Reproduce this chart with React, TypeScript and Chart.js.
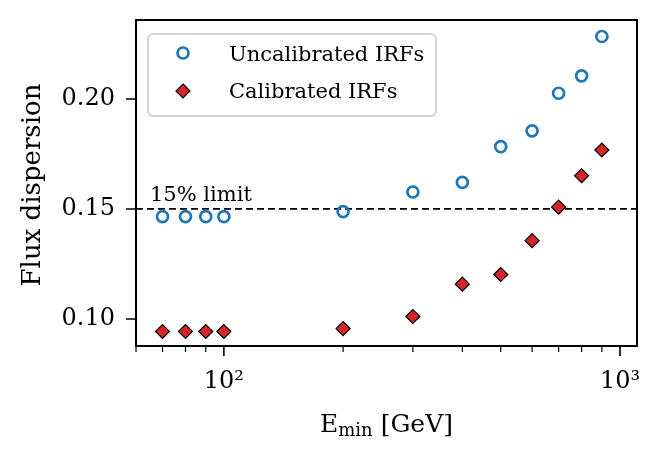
import { useEffect, useRef } from "react"
import { Chart, registerables } from "chart.js"

Chart.register(...registerables)

const energies = [70, 80, 90, 100, 200, 300, 400, 500, 600, 700, 800, 900]
const uncalibrated = [0.1465, 0.1465, 0.1465, 0.1465, 0.1488, 0.1577, 0.1621, 0.1783, 0.1855, 0.2026, 0.2105, 0.2284]
const calibrated = [0.0943, 0.0943, 0.0943, 0.0943, 0.0956, 0.1011, 0.1158, 0.1202, 0.1356, 0.1508, 0.1651, 0.1768]
const limitValue = 0.15
const yTicks = [0.1, 0.15, 0.2]
const xMajorTicks = [100, 1000]
const xMinorTicks = [60, 70, 80, 90, 200, 300, 400, 500, 600, 700, 800, 900]
const xLabels: Record<number, string> = { 100: "10²", 1000: "10³" }
const seriesNames = ["Uncalibrated IRFs", "Calibrated IRFs"]

const FONT = "'DejaVu Serif', serif"
const BLUE = "#1f77b4"
const RED = "#d62728"

// spines, tick marks, titles and the boxed legend, matplotlib style
const decorations = {
  id: "decorations",
  afterDraw(chart: Chart) {
    const { ctx, chartArea: a, scales } = chart
    const x = scales.x
    const y = scales.y
    ctx.save()
    ctx.strokeStyle = "#000"
    ctx.lineWidth = 2
    ctx.strokeRect(a.left, a.top, a.right - a.left, a.bottom - a.top)

    ctx.lineWidth = 1.6
    ctx.beginPath()
    yTicks.forEach((v) => {
      const py = y.getPixelForValue(v)
      ctx.moveTo(a.left, py)
      ctx.lineTo(a.left - 10, py)
    })
    xMajorTicks.forEach((v) => {
      const px = x.getPixelForValue(v)
      ctx.moveTo(px, a.bottom)
      ctx.lineTo(px, a.bottom + 10)
    })
    ctx.stroke()
    ctx.lineWidth = 1.2
    ctx.beginPath()
    xMinorTicks.forEach((v) => {
      const px = x.getPixelForValue(v)
      ctx.moveTo(px, a.bottom)
      ctx.lineTo(px, a.bottom + 6)
    })
    ctx.stroke()

    // limit label
    ctx.fillStyle = "#000"
    ctx.font = `21px ${FONT}`
    ctx.textAlign = "left"
    ctx.textBaseline = "alphabetic"
    ctx.fillText("15% limit", a.left + 14, y.getPixelForValue(limitValue) - 8)

    // x title with subscript
    const big = `25px ${FONT}`
    const small = `18px ${FONT}`
    ctx.font = big
    const wE = ctx.measureText("E").width
    const wRest = ctx.measureText(" [GeV]").width
    ctx.font = small
    const wSub = ctx.measureText("min").width
    const total = wE + wSub + wRest
    let tx = (a.left + a.right) / 2 - total / 2
    const ty = 432
    ctx.font = big
    ctx.fillText("E", tx, ty)
    tx += wE
    ctx.font = small
    ctx.fillText("min", tx, ty + 4)
    tx += wSub
    ctx.font = big
    ctx.fillText(" [GeV]", tx, ty)

    // y title
    ctx.save()
    ctx.translate(40, (a.top + a.bottom) / 2 + 2)
    ctx.rotate(-Math.PI / 2)
    ctx.textAlign = "center"
    ctx.font = `26px ${FONT}`
    ctx.fillText("Flux dispersion", 0, 0)
    ctx.restore()

    // legend
    const lx = 148
    const ly = 34
    const lw = 288
    const lh = 82
    ctx.beginPath()
    ctx.roundRect(lx, ly, lw, lh, 5)
    ctx.fillStyle = "rgba(255,255,255,0.8)"
    ctx.fill()
    ctx.strokeStyle = "#d4d4d4"
    ctx.lineWidth = 2
    ctx.stroke()

    ctx.beginPath()
    ctx.arc(183, 53, 5.5, 0, Math.PI * 2)
    ctx.strokeStyle = BLUE
    ctx.lineWidth = 2.7
    ctx.stroke()

    const d = 7
    ctx.beginPath()
    ctx.moveTo(183, 91 - d)
    ctx.lineTo(183 + d, 91)
    ctx.lineTo(183, 91 + d)
    ctx.lineTo(183 - d, 91)
    ctx.closePath()
    ctx.fillStyle = RED
    ctx.fill()
    ctx.strokeStyle = "#000"
    ctx.lineWidth = 1.2
    ctx.stroke()

    ctx.fillStyle = "#000"
    ctx.font = `21px ${FONT}`
    ctx.fillText(seriesNames[0], 229, 61)
    ctx.fillText(seriesNames[1], 229, 98)
    ctx.restore()
  },
}

export default function App() {
  const chartRef = useRef<HTMLCanvasElement>(null)
  const chartInstance = useRef<Chart | null>(null)

  useEffect(() => {
    document.body.style.margin = "0"
    if (!chartRef.current) return
    const ctx = chartRef.current.getContext("2d")
    if (!ctx) return

    chartInstance.current = new Chart(ctx, {
      type: "scatter",
      data: {
        datasets: [
          {
            label: seriesNames[0],
            data: energies.map((e, i) => ({ x: e, y: uncalibrated[i] })),
            pointStyle: "circle",
            pointRadius: 5.5,
            pointBorderWidth: 2.7,
            pointBorderColor: BLUE,
            pointBackgroundColor: "rgba(0,0,0,0)",
            order: 2,
          },
          {
            label: seriesNames[1],
            data: energies.map((e, i) => ({ x: e, y: calibrated[i] })),
            pointStyle: "rectRot",
            pointRadius: 7,
            pointBorderWidth: 1.2,
            pointBorderColor: "#000",
            pointBackgroundColor: RED,
            order: 1,
          },
          {
            type: "line",
            label: "limit",
            data: [
              { x: 60, y: limitValue },
              { x: 1104, y: limitValue },
            ],
            borderColor: "#000",
            borderWidth: 1.8,
            borderDash: [7, 4],
            pointRadius: 0,
            order: 3,
          },
        ],
      },
      options: {
        responsive: true,
        maintainAspectRatio: false,
        animation: false,
        layout: { padding: { top: 20, right: 26, left: 0, bottom: 0 } },
        plugins: {
          legend: { display: false },
          tooltip: { enabled: false },
        },
        scales: {
          x: {
            type: "logarithmic",
            min: 60,
            max: 1104,
            grid: { display: false, drawTicks: false },
            border: { display: false },
            afterBuildTicks: (scale) => {
              scale.ticks = [...xMinorTicks.slice(0, 4), 100, ...xMinorTicks.slice(4), 1000].map((v) => ({ value: v }))
            },
            afterFit: (scale) => {
              scale.height = 116
              scale.paddingLeft = 0
              scale.paddingRight = 0
            },
            ticks: {
              autoSkip: false,
              maxRotation: 0,
              padding: 21,
              color: "#000",
              font: { family: FONT, size: 24 },
              callback: (value) => xLabels[value as number] ?? "",
            },
          },
          y: {
            min: 0.0877,
            max: 0.2359,
            grid: { display: false, drawTicks: false },
            border: { display: false },
            afterBuildTicks: (scale) => {
              scale.ticks = yTicks.map((v) => ({ value: v }))
            },
            afterFit: (scale) => {
              scale.width = 136
              scale.paddingTop = 0
              scale.paddingBottom = 0
            },
            ticks: {
              padding: 21,
              color: "#000",
              font: { family: FONT, size: 24 },
              callback: (value) => (value as number).toFixed(2),
            },
          },
        },
      },
      plugins: [decorations],
    })

    return () => {
      if (chartInstance.current) {
        chartInstance.current.destroy()
      }
    }
  }, [])

  return (
    <div style={{ width: 663, height: 462, position: "relative" }}>
      <canvas ref={chartRef}></canvas>
    </div>
  )
}
